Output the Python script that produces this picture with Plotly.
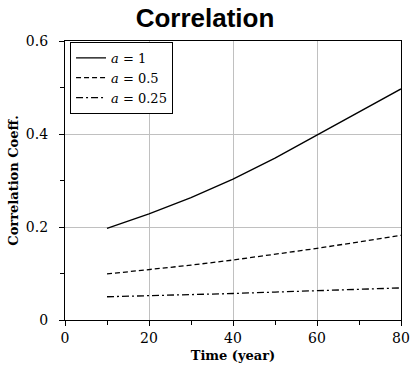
import plotly.graph_objects as go

time_years = [10, 20, 30, 40, 50, 60, 70, 80]
corr_a1 = [0.197, 0.228, 0.263, 0.303, 0.348, 0.398, 0.447, 0.497]
corr_a05 = [0.099, 0.108, 0.118, 0.129, 0.141, 0.154, 0.168, 0.182]
corr_a025 = [0.050, 0.052, 0.055, 0.057, 0.060, 0.063, 0.066, 0.069]
series_names = ["<i>a</i> = 1", "<i>a</i> = 0.5", "<i>a</i> = 0.25"]

serif = "DejaVu Serif, Liberation Serif, serif"

fig = go.Figure()
styles = ["solid", "5px,3px", "7px,3px,2px,3px"]
for name, vals, dash in zip(series_names, [corr_a1, corr_a05, corr_a025], styles):
    fig.add_trace(go.Scatter(x=time_years, y=vals, mode="lines", name=name,
                             line=dict(color="black", width=1.3, dash=dash)))

axis_common = dict(showline=True, linecolor="black", linewidth=1.3, mirror=True,
                   ticks="outside", ticklen=5, tickcolor="black", tickwidth=1,
                   showgrid=True, gridcolor="#c0c0c0", gridwidth=1, zeroline=False,
                   automargin=False,
                   tickfont=dict(family=serif, size=14, color="black"))

fig.update_layout(
    width=410, height=370,
    margin=dict(l=65, r=9, t=41, b=50),
    paper_bgcolor="white", plot_bgcolor="white",
    title=dict(text="<b>Correlation</b>", x=0.5, xanchor="center", y=0.951, yanchor="middle",
               font=dict(family="Liberation Sans, Arial, sans-serif", size=26, color="black")),
    showlegend=True,
    legend=dict(x=0.015, y=0.997, xanchor="left", yanchor="top",
                bgcolor="white", bordercolor="black", borderwidth=1,
                font=dict(family=serif, size=13, color="black"),
                tracegroupgap=0, itemwidth=30),
    xaxis=dict(range=[0, 80], tickvals=[0, 20, 40, 60, 80],
               minor=dict(tickvals=[10, 30, 50, 70], ticks="outside", ticklen=4,
                          tickcolor="black", showgrid=False),
               title=dict(text="<b>Time (year)</b>", font=dict(family=serif, size=13, color="black"),
                          standoff=5),
               **axis_common),
    yaxis=dict(range=[0, 0.6], tickvals=[0, 0.2, 0.4, 0.6], ticktext=["0", "0.2", "0.4", "0.6"],
               minor=dict(tickvals=[0.1, 0.3, 0.5], ticks="outside", ticklen=4,
                          tickcolor="black", showgrid=False),
               ticklabelstandoff=8,
               title=dict(text="<b>Correlation Coeff.</b>", font=dict(family=serif, size=13, color="black"),
                          standoff=4),
               **axis_common),
)

fig.write_html("out.html")
